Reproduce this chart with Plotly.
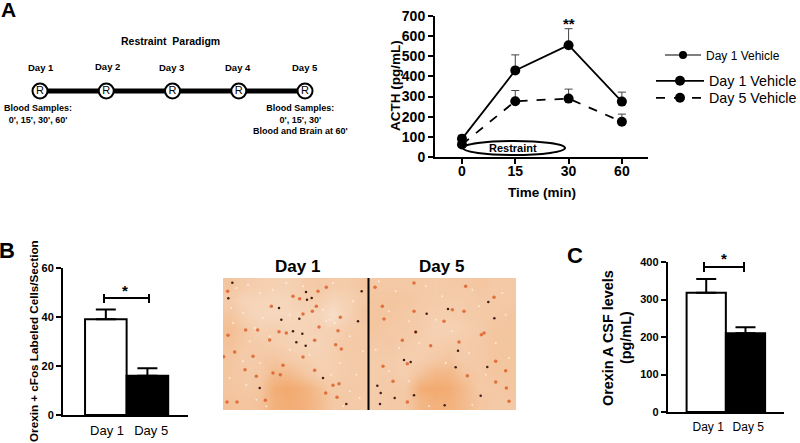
import plotly.graph_objects as go

# the figure is a little wider than the 800 px window so the legend box does not push the right margin
W, H = 806, 443
FONT = "Liberation Sans"

# panel A, ACTH time course
time_labels = ["0", "15", "30", "60"]
day1_acth = [90, 430, 555, 275]
day1_err = [18, 77, 82, 47]
day5_acth = [62, 277, 290, 175]
day5_err = [15, 53, 47, 38]

# panel A, paradigm timeline
days = [1, 2, 3, 4, 5]
day_names = ["Day 1", "Day 2", "Day 3", "Day 4", "Day 5"]

# panel B
bar_labels = ["Day 1", "Day 5"]
b_values = [39, 16]
b_err = [4, 3]

# panel C
c_values = [318, 210]
c_err = [37, 16]

# micrograph: coarse tone grid (0 pale, 1 orange) and cells
tone_left = [
    [.55, .45, .40, .35, .35, .45, .50, .45, .45, .55],
    [.45, .30, .30, .25, .30, .40, .40, .30, .35, .50],
    [.55, .35, .25, .25, .25, .30, .30, .10, .35, .55],
    [.65, .50, .35, .40, .30, .30, .35, .35, .45, .50],
    [.60, .50, .45, .40, .35, .30, .30, .40, .50, .50],
    [.55, .45, .50, .55, .45, .40, .35, .40, .45, .50],
    [.55, .50, .50, .70, .70, .55, .40, .40, .45, .50],
    [.55, .50, .55, .90, .95, .85, .65, .45, .50, .50],
    [.60, .55, .60, .85, .90, .85, .70, .50, .50, .45],
]
tone_right = [
    [.50, .50, .50, .50, .45, .50, .50, .55, .50, .50],
    [.55, .55, .55, .50, .45, .45, .45, .50, .50, .50],
    [.55, .55, .50, .45, .40, .40, .45, .50, .50, .55],
    [.55, .50, .50, .45, .35, .35, .40, .45, .55, .55],
    [.50, .50, .45, .40, .40, .45, .45, .50, .55, .55],
    [.45, .45, .40, .40, .50, .55, .45, .50, .55, .55],
    [.45, .45, .40, .60, .75, .75, .55, .50, .55, .55],
    [.45, .50, .50, .90, .95, .90, .70, .50, .50, .55],
    [.45, .50, .50, .75, .85, .85, .70, .55, .50, .50],
]
left_dark_x = [28, 16, 249, 266, 252, 168, 175, 229, 405, 416, 210, 238, 220, 248, 300, 110, 370]
left_dark_y = [14, 61, 42, 60, 65, 90, 125, 122, 130, 40, 160, 167, 193, 203, 300, 330, 378]
left_orange_x = [14, 210, 280, 310, 285, 68, 104, 168, 140, 15, 35, 90, 2, 66, 240, 275, 338, 355, 345,
                 352, 288, 275, 180, 150, 172, 330, 348, 308, 342, 42, 12, 127, 100, 230, 268, 240, 190, 145]
left_orange_y = [40, 55, 85, 28, 40, 156, 156, 161, 186, 172, 222, 235, 236, 275, 237, 187, 200, 213, 158,
                 118, 147, 277, 262, 285, 290, 322, 317, 345, 358, 372, 372, 367, 295, 62, 100, 108, 165, 85]
left_pale_x = [40, 75, 110, 150, 190, 240, 330, 390, 25, 60, 120, 200, 300, 320, 335, 310, 95, 140, 30, 80,
               200, 260, 380, 420, 60, 110, 350, 400, 20, 70, 325, 380, 100, 410, 360, 130]
left_pale_y = [30, 20, 45, 35, 15, 25, 15, 70, 90, 105, 120, 110, 95, 125, 135, 130, 150, 175, 135, 190,
               215, 230, 175, 220, 250, 255, 255, 290, 300, 320, 290, 340, 365, 360, 385, 385]
right_pale_x = [30, 80, 170, 220, 310, 400, 60, 120, 200, 330, 410, 150, 250, 20, 90, 300, 380, 60, 230, 350,
                420, 120, 180, 310]
right_pale_y = [10, 40, 25, 55, 35, 45, 100, 130, 125, 85, 110, 195, 160, 215, 210, 225, 195, 280, 255, 290,
                240, 310, 385, 380]
right_dark_x = [173, 237, 376, 358, 267, 105, 125, 260, 355, 25, 35, 135, 335, 33, 77, 227, 140]
right_dark_y = [107, 93, 121, 72, 218, 246, 252, 268, 267, 323, 345, 352, 353, 378, 360, 382, 162]
right_orange_x = [135, 375, 40, 45, 140, 270, 345, 380, 42, 115, 72, 295, 380, 412, 420, 115, 410, 100,
                  290, 285, 18, 225, 185, 250, 135, 337]
right_orange_y = [15, 58, 85, 123, 162, 192, 165, 250, 265, 257, 310, 293, 312, 330, 370, 372, 278, 187,
                  25, 100, 28, 130, 203, 95, 100, 170]


def fx(px):
    return px / W


def fy(py):
    return 1 - py / H


def label(text, x, y, size, bold=True, angle=0, color="black"):
    fig.add_annotation(
        text=f"<b>{text}</b>" if bold else text,
        x=fx(x), y=fy(y), xref="paper", yref="paper",
        showarrow=False, textangle=angle, align="center",
        xanchor="center", yanchor="middle",
        font=dict(family=FONT, size=size, color=color),
    )


def line(x0, y0, x1, y1, width=2):
    fig.add_shape(type="line", x0=fx(x0), y0=fy(y0), x1=fx(x1), y1=fy(y1),
                  xref="paper", yref="paper", line=dict(color="black", width=width))


fig = go.Figure()

# ACTH lines
series = [("Day 1 Vehicle", day1_acth, day1_err, "solid", "legend"),
          ("Day 5 Vehicle", day5_acth, day5_err, "dash", "legend3")]
for name, vals, errs, dash, leg in series:
    fig.add_trace(go.Scatter(
        x=[0, 1, 2, 3], y=vals, name=name, mode="lines+markers", xaxis="x", yaxis="y",
        line=dict(color="black", width=1.8, dash=dash),
        marker=dict(color="black", size=10),
        error_y=dict(type="data", symmetric=False, array=errs, arrayminus=[0, 0, 0, 0],
                     color="#444444", thickness=1, width=4),
        cliponaxis=False, legend=leg,
    ))
fig.add_trace(go.Scatter(
    x=[None], y=[None], name="Day 1 Vehicle", mode="lines+markers", xaxis="x", yaxis="y",
    line=dict(color="black", width=1.2), marker=dict(color="black", size=8), legend="legend2",
))

# timeline
fig.add_trace(go.Scatter(
    x=days, y=[0] * 5, mode="lines+markers+text", text=["R"] * 5, xaxis="x2", yaxis="y2",
    textposition="middle center", textfont=dict(family=FONT, size=11, color="black"),
    line=dict(color="black", width=5),
    marker=dict(color="white", size=15, line=dict(color="black", width=2)),
    showlegend=False, cliponaxis=False,
))

# bars B and C
for vals, errs, xa, ya in [(b_values, b_err, "x3", "y3"), (c_values, c_err, "x4", "y4")]:
    fig.add_trace(go.Bar(
        x=[1, 2], y=vals, width=1, xaxis=xa, yaxis=ya, showlegend=False,
        marker=dict(color=["white", "black"], line=dict(color="black", width=2)),
        error_y=dict(type="data", symmetric=False, array=errs, arrayminus=[0, 0],
                     color="black", thickness=2, width=10),
    ))

# micrograph
scale = [[0, "#f8e4d2"], [0.5, "#f4c9a6"], [1, "#f2a669"]]
panels = [
    (tone_left, left_dark_x, left_dark_y, left_orange_x, left_orange_y, left_pale_x, left_pale_y, "x5", "y5"),
    (tone_right, right_dark_x, right_dark_y, right_orange_x, right_orange_y, right_pale_x, right_pale_y, "x6", "y6"),
]
for tone, dx, dy, ox, oy, px_, py_, xa, ya in panels:
    fig.add_trace(go.Heatmap(z=tone, x0=22, dx=44, y0=22, dy=44, xaxis=xa, yaxis=ya, zmin=0, zmax=1,
                             colorscale=scale, showscale=False, zsmooth="best", hoverinfo="skip"))
    fig.add_trace(go.Scatter(x=px_, y=py_, mode="markers", xaxis=xa, yaxis=ya, showlegend=False,
                             marker=dict(color="#fff3e8", size=2, opacity=0.75)))
    fig.add_trace(go.Scatter(x=ox, y=oy, mode="markers", xaxis=xa, yaxis=ya, showlegend=False,
                             marker=dict(color="#dc5a22", size=3.5, opacity=0.8)))
    fig.add_trace(go.Scatter(x=dx, y=dy, mode="markers", xaxis=xa, yaxis=ya, showlegend=False,
                             marker=dict(color="#3c2015", size=2.5)))


def domain_x(a, b):
    return [fx(a), fx(b)]


def domain_y(top, bottom):
    return [fy(bottom), fy(top)]


# the default template turns automargin on, which squeezes the plot height
def axis_style(size):
    return dict(showgrid=False, zeroline=False, showline=True, linecolor="black", linewidth=2,
                ticks="outside", ticklen=5, tickwidth=2, tickcolor="black", automargin=False,
                tickfont=dict(family=FONT, size=size, color="black", weight=700))


def legend_at(x, y, size, width):
    return dict(x=fx(x), y=fy(y), xanchor="left", yanchor="middle", itemwidth=width,
                bgcolor="rgba(0,0,0,0)", font=dict(family=FONT, size=size, color="black"))


hidden = dict(visible=False, fixedrange=True, automargin=False)
fig.update_layout(
    width=W, height=H, margin=dict(l=0, r=0, t=0, b=0), autosize=False,
    paper_bgcolor="white", plot_bgcolor="white", showlegend=True, barmode="overlay",
    xaxis=dict(domain=domain_x(435, 648), range=[-0.506, 3.49], tickvals=[0, 1, 2, 3], ticktext=time_labels,
               anchor="y", ticklabelstandoff=-5, **axis_style(14)),
    yaxis=dict(domain=domain_y(16, 157), range=[0, 700], tickvals=list(range(0, 701, 100)),
               anchor="x", **axis_style(14)),
    xaxis2=dict(domain=domain_x(20, 330), range=[0.698, 5.377], anchor="y2", **hidden),
    yaxis2=dict(domain=domain_y(81, 101), range=[-1, 1], anchor="x2", **hidden),
    xaxis3=dict(domain=domain_x(63, 188), range=[-0.03, 2.976], tickvals=[1.03, 2.09], ticktext=bar_labels,
                anchor="y3", ticklabelstandoff=2,
                **{**axis_style(13), "ticks": "", "tickfont": dict(family=FONT, size=13, color="black")}),
    yaxis3=dict(domain=domain_y(267.7, 415), range=[0, 60], tickvals=[0, 20, 40, 60],
                anchor="x3", **axis_style(11)),
    xaxis4=dict(domain=domain_x(667.7, 784), range=[0.5 - 19 / 39.5, 2.5 + 19 / 39.5], tickvals=[1.05, 2.07],
                ticktext=bar_labels, anchor="y4", ticklabelstandoff=3,
                **{**axis_style(12), "ticks": "", "tickfont": dict(family=FONT, size=12, color="black")}),
    yaxis4=dict(domain=domain_y(262, 412), range=[0, 400], tickvals=[0, 100, 200, 300, 400],
                anchor="x4", **axis_style(11)),
    xaxis5=dict(domain=domain_x(223, 369), range=[0, 438], anchor="y5", **hidden),
    yaxis5=dict(domain=domain_y(278, 410), range=[396, 0], anchor="x5", **hidden),
    xaxis6=dict(domain=domain_x(369, 516), range=[0, 441], anchor="y6", **hidden),
    yaxis6=dict(domain=domain_y(278, 410), range=[396, 0], anchor="x6", **hidden),
    legend=legend_at(651, 81, 14.3, 48),
    legend3=legend_at(651, 98, 14.3, 48),
    legend2=legend_at(660, 55, 12, 36),
)

# panel letters
label("A", 8, 10, 21)
label("B", 7, 250, 22)
label("C", 575, 255, 22)

# paradigm text
label("Restraint  Paradigm", 170, 41, 10.5)
for name, x, y in zip(day_names, [41, 107, 171, 238, 305], [68, 67, 68, 68, 68]):
    label(name, x, y, 9.5)
label("Blood Samples:<br>0', 15', 30', 60'", 38, 114, 9)
label("Blood Samples:<br>0', 15', 30'<br>Blood and Brain at 60'", 300, 120, 9)

# ACTH annotations
label("ACTH (pg/mL)", 395, 86, 13.5, angle=-90)
label("Time (min)", 542, 193, 13.5)
label("**", 569, 24, 15)
label("Restraint", 513, 148, 11)
fig.add_shape(type="circle", x0=fx(463), x1=fx(565), y0=fy(155), y1=fy(141), xref="paper", yref="paper",
              line=dict(color="black", width=2))

# panel B annotations
label("Orexin + cFos Labeled Cells/Section", 33, 341, 11.7, angle=-90)
line(104, 298, 149, 298)
line(104, 294, 104, 303)
line(149, 294, 149, 303)
label("*", 125, 290, 15)

# micrograph titles and divider
label("Day 1", 297, 266, 17)
label("Day 5", 442, 266, 17)
line(368.5, 278, 368.5, 410, width=2)

# panel C annotations
label("Orexin A CSF levels", 608, 338, 14.4, angle=-90)
label("(pg/mL)", 626, 338, 14.4, angle=-90)
line(704, 267, 744, 267)
line(704, 262, 704, 272)
line(744, 262, 744, 272)
label("*", 724, 258, 15)

# plotly's page keeps the default body margin, drop it so the figure sits at the window corner
fig.write_html("out.html", config={"displayModeBar": False},
               post_script="document.body.style.margin='0';document.body.style.overflow='hidden';")
